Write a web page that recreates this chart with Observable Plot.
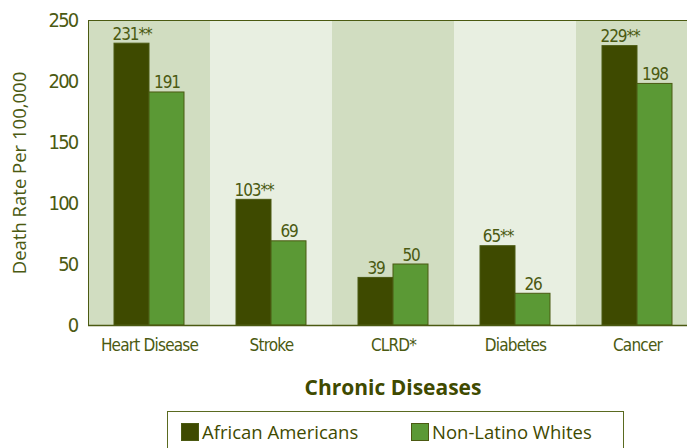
<!DOCTYPE html>
<html><head><meta charset="utf-8">
<script src="https://cdn.jsdelivr.net/npm/d3@7"></script>
<script src="https://cdn.jsdelivr.net/npm/@observablehq/plot@0.6"></script>
<style>
body{margin:0;background:#fff;}
#wrap{position:relative;width:687px;height:448px;overflow:hidden;color:#4b5a12;}
#title{position:absolute;left:88px;width:610px;top:373px;text-align:center;font:bold 21px "Open Sans",sans-serif;color:#3f4a00;}
#legend{position:absolute;left:167px;top:411px;width:457px;height:60px;border:1px solid #5a6a20;box-sizing:border-box;font:18.5px "Open Sans",sans-serif;color:#3f4a00;}
.item{position:absolute;top:7px;display:flex;align-items:center;gap:3px;}
.sw{width:16px;height:16px;border:1px solid #4b5a12;}
</style></head><body><div id="wrap"></div>
<script>
const diseases = ["Heart Disease", "Stroke", "CLRD*", "Diabetes", "Cancer"];
const groups = ["African Americans", "Non-Latino Whites"];
const africanAmericans = [231, 103, 39, 65, 229];
const nonLatinoWhites = [191, 69, 50, 26, 198];
const aaLabels = ["231**", "103**", "39", "65**", "229**"];
const nlwLabels = ["191", "69", "50", "26", "198"];
const yTicks = [0, 50, 100, 150, 200, 250];
const colors = ["#3e4a00", "#5b9935"];

const rows = [];
diseases.forEach((d, i) => {
  rows.push({disease: d, group: groups[0], value: africanAmericans[i], label: aaLabels[i]});
  rows.push({disease: d, group: groups[1], value: nonLatinoWhites[i], label: nlwLabels[i]});
});

const olive = "#4b5a12";
const narrow = "'Liberation Sans Narrow','DejaVu Sans Condensed',sans-serif";

const chart = Plot.plot({
  width: 687,
  height: 360,
  marginLeft: 88,
  marginRight: -11,
  marginTop: 20,
  marginBottom: 35,
  style: {color: olive, background: "transparent"},
  fx: {domain: diseases, padding: 0},
  x: {domain: groups, paddingInner: 0, paddingOuter: 0.72, axis: null},
  y: {domain: [0, 250], ticks: yTicks},
  color: {domain: groups, range: colors},
  marks: [
    Plot.rect(diseases.filter((d, i) => i % 2 === 0), {fx: d => d, y1: 0, y2: 250, fill: "#d1ddc1"}),
    Plot.rect(diseases.filter((d, i) => i % 2 === 1), {fx: d => d, y1: 0, y2: 250, fill: "#e8efe1"}),
    Plot.barY(rows, {fx: "disease", x: "group", y: "value", fill: "group", stroke: "#4b5a12", strokeWidth: 1}),
    Plot.text(rows, {fx: "disease", x: "group", y: "value", text: "label", lineAnchor: "bottom", dy: -4, fontSize: 17, fill: olive, fontFamily: narrow, className: "vlab"}),
    Plot.ruleY([0], {stroke: "#4b5a12", strokeWidth: 1.5}),
    Plot.ruleY([250], {stroke: "#4b5a12", strokeWidth: 1}),
    Plot.frame({anchor: "left", facetAnchor: "left", stroke: "#4b5a12"}),
    Plot.axisY({ticks: yTicks, tickSize: 0, tickPadding: 11, fontSize: 20, fontFamily: narrow, label: "Death Rate Per 100,000", labelAnchor: "center", labelOffset: 76, labelArrow: "none"}),
    Plot.axisFx({anchor: "bottom", tickSize: 0, tickPadding: 13, fontSize: 17, fontFamily: narrow, label: null})
  ]
});
chart.querySelectorAll("g[aria-label='y-axis tick label'] text").forEach(t => t.setAttribute("letter-spacing", "-1.8"));
chart.querySelectorAll("g[aria-label='fx-axis tick label'] text").forEach(t => t.setAttribute("letter-spacing", "-0.8"));
chart.querySelectorAll("g[aria-label='text'] text").forEach(t => t.setAttribute("letter-spacing", "-1.1"));
chart.querySelectorAll("g[aria-label='y-axis label'] text").forEach(t => { t.setAttribute("font-size", 18.5); t.setAttribute("font-family", "'Open Sans',sans-serif"); });
const wrap = document.getElementById("wrap");
wrap.appendChild(chart);
const title = document.createElement("div");
title.id = "title"; title.textContent = "Chronic Diseases";
wrap.appendChild(title);
const legend = document.createElement("div");
legend.id = "legend";
const lefts = [13, 243];
groups.forEach((g, i) => {
  const it = document.createElement("div");
  it.className = "item"; it.style.left = lefts[i] + "px";
  const sw = document.createElement("div"); sw.className = "sw"; sw.style.background = colors[i];
  const lb = document.createElement("span"); lb.textContent = g;
  it.appendChild(sw); it.appendChild(lb);
  legend.appendChild(it);
});
wrap.appendChild(legend);
</script></body></html>
